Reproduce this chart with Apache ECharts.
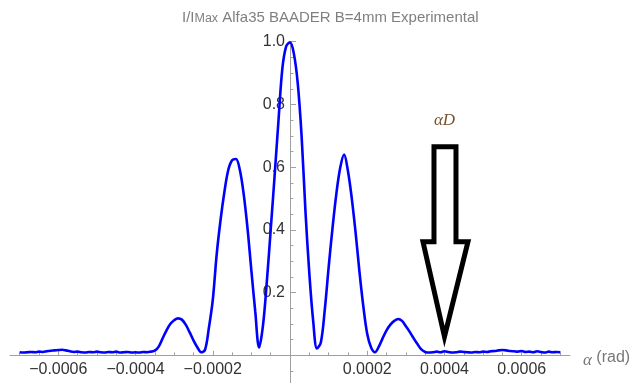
<!DOCTYPE html>
<html>
<head>
<meta charset="utf-8">
<script src="https://cdn.jsdelivr.net/npm/echarts@6/dist/echarts.min.js"></script>
<style>
html,body{margin:0;padding:0;background:#fff;}
#chart{width:637px;height:383px;}
</style>
</head>
<body>
<div id="chart"></div>
<script>
// alpha (rad)
const alpha = [
-0.00070,-0.00069,-0.00068,-0.00067,-0.00066,-0.00065,-0.00064,-0.00063,-0.00062,-0.00061,
-0.00060,-0.00059,-0.00058,-0.00057,-0.00056,-0.00055,-0.00054,-0.00053,-0.00052,-0.00051,
-0.00050,-0.00049,-0.00048,-0.00047,-0.00046,-0.00045,-0.00044,-0.00043,-0.00042,-0.00041,
-0.00040,-0.00039,-0.00038,-0.00037,-0.00036,-0.00035,-0.00034,-0.00033,-0.00032,-0.00031,
-0.00030,-0.00029,-0.00028,-0.00027,-0.00026,-0.00025,-0.00024,-0.00023,-0.00022,-0.00021,
-0.00020,-0.00019,-0.00018,-0.00017,-0.00016,-0.00015,-0.00014,-0.00013,-0.00012,-0.00011,
-0.00010,-0.00009,-0.00008,-0.00007,-0.00006,-0.00005,-0.00004,-0.00003,-0.00002,-0.00001,
0.00000,
0.00001,0.00002,0.00003,0.00004,0.00005,0.00006,0.00007,0.00008,0.00009,0.00010,
0.00011,0.00012,0.00013,0.00014,0.00015,0.00016,0.00017,0.00018,0.00019,0.00020,
0.00021,0.00022,0.00023,0.00024,0.00025,0.00026,0.00027,0.00028,0.00029,0.00030,
0.00031,0.00032,0.00033,0.00034,0.00035,0.00036,0.00037,0.00038,0.00039,0.00040,
0.00041,0.00042,0.00043,0.00044,0.00045,0.00046,0.00047,0.00048,0.00049,0.00050,
0.00051,0.00052,0.00053,0.00054,0.00055,0.00056,0.00057,0.00058,0.00059,0.00060,
0.00061,0.00062,0.00063,0.00064,0.00065,0.00066,0.00067,0.00068,0.00069,0.00070
];
// I / I_max
const intensity = [
0.010,0.009,0.010,0.011,0.010,0.012,0.011,0.013,0.015,0.016,
0.017,0.018,0.016,0.013,0.011,0.012,0.010,0.009,0.011,0.010,
0.012,0.010,0.009,0.011,0.010,0.012,0.009,0.010,0.011,0.009,
0.010,0.009,0.011,0.010,0.012,0.015,0.028,0.054,0.079,0.100,
0.112,0.118,0.114,0.098,0.074,0.048,0.026,0.010,0.018,0.088,
0.176,0.320,0.430,0.520,0.590,0.622,0.626,0.592,0.515,0.405,
0.270,0.140,0.025,0.095,0.235,0.400,0.570,0.745,0.912,0.985,
0.998,
0.962,0.868,0.700,0.460,0.262,0.110,0.022,0.042,0.145,0.280,
0.405,0.515,0.598,0.640,0.588,0.500,0.390,0.265,0.155,0.068,
0.025,0.010,0.028,0.055,0.080,0.098,0.110,0.116,0.110,0.093,
0.075,0.055,0.036,0.019,0.011,0.009,0.010,0.012,0.010,0.013,
0.011,0.009,0.010,0.012,0.011,0.010,0.009,0.011,0.010,0.012,
0.011,0.013,0.014,0.016,0.017,0.016,0.014,0.013,0.012,0.014,
0.011,0.012,0.010,0.013,0.011,0.009,0.012,0.010,0.011,0.010
];
const xTickValues = [-0.0006, -0.0004, -0.0002, 0.0002, 0.0004, 0.0006];
const xTickLabels = ['\u22120.0006', '\u22120.0004', '\u22120.0002', '0.0002', '0.0004', '0.0006'];
const xMinorTicks = [-0.0007,-0.00065,-0.0006,-0.00055,-0.0005,-0.00045,-0.0004,-0.00035,-0.0003,-0.00025,-0.0002,-0.00015,-0.0001,-0.00005,
  0.00005,0.0001,0.00015,0.0002,0.00025,0.0003,0.00035,0.0004,0.00045,0.0005,0.00055,0.0006,0.00065,0.0007];
const yTickValues = [0.2, 0.4, 0.6, 0.8, 1.0];
const yTickLabels = ['0.2', '0.4', '0.6', '0.8', '1.0'];
const yMinorTicks = [-0.05,0.05,0.1,0.15,0.2,0.25,0.3,0.35,0.4,0.45,0.5,0.55,0.6,0.65,0.7,0.75,0.8,0.85,0.9,0.95,1.0];
const arrowTip = [0.0004, 0.05];
const arrowLabel = '\u03B1D';

const chart = echarts.init(document.getElementById('chart'), null, {renderer: 'canvas'});
const AX = '#a0a0a0';
const FONT = 'Liberation Sans';
function lookup(vals, labels, v) {
  let best = 0;
  for (let i = 1; i < vals.length; i++) if (Math.abs(vals[i] - v) < Math.abs(vals[best] - v)) best = i;
  return labels[best];
}
const xMin = -0.000725, xMax = 0.000725, yMin = -0.088, yMax = 1.0;
const G = {left: 10, top: 41.7, width: 560, height: 341.3};
// axes cross at the origin: shift axes from grid edges to the zero lines
const xAxisOffset = -(G.height * (0 - yMin) / (yMax - yMin));
const yAxisOffset = -(G.width * (0 - xMin) / (xMax - xMin));

chart.setOption({
  animation: false,
  backgroundColor: '#fff',
  title: {
    text: '{a|I/I}{b|Max}{a| Alfa35 BAADER B=4mm Experimental}',
    left: 177, top: 2,
    textStyle: {
      fontWeight: 'normal',
      rich: {
        a: {fontFamily: FONT, fontSize: 15, fontWeight: 'normal', color: '#808080', lineHeight: 18, verticalAlign: 'bottom'},
        b: {fontFamily: FONT, fontSize: 12.5, fontWeight: 'normal', color: '#808080', lineHeight: 12, padding: [8, 0, 0, 0], verticalAlign: 'bottom'}
      }
    }
  },
  grid: Object.assign({containLabel: false, outerBoundsMode: 'none'}, G),
  xAxis: [{
    type: 'value', min: xMin, max: xMax, position: 'bottom', offset: xAxisOffset,
    axisLine: {show: true, onZero: false, lineStyle: {color: AX, width: 1}},
    axisTick: {show: true, inside: true, length: 4.5, customValues: xTickValues, lineStyle: {color: AX}},
    axisLabel: {show: true, customValues: xTickValues, margin: 6, color: '#333', fontFamily: FONT, fontSize: 16,
      formatter: v => lookup(xTickValues, xTickLabels, v)},
    splitLine: {show: false},
    name: '{a|\u03B1} (rad)', nameLocation: 'end', nameGap: 13,
    nameTextStyle: {color: '#777', fontFamily: FONT, fontSize: 16, verticalAlign: 'middle', padding: [5, 0, 0, 0],
      rich: {a: {fontStyle: 'italic', fontFamily: 'Liberation Serif', fontSize: 17, color: '#777', padding: [5, 0, 0, 0]}}}
  }, {
    type: 'value', min: xMin, max: xMax, position: 'bottom', offset: xAxisOffset,
    axisLine: {show: false, onZero: false},
    axisTick: {show: true, inside: true, length: 3, customValues: xMinorTicks, lineStyle: {color: AX}},
    axisLabel: {show: false},
    splitLine: {show: false}
  }],
  yAxis: [{
    type: 'value', min: yMin, max: yMax, position: 'left', offset: yAxisOffset,
    axisLine: {show: true, onZero: false, lineStyle: {color: AX, width: 1}},
    axisTick: {show: true, inside: true, length: 6, customValues: yTickValues, lineStyle: {color: AX}},
    axisLabel: {show: true, customValues: yTickValues, margin: 5, color: '#333', fontFamily: FONT, fontSize: 16,
      formatter: v => lookup(yTickValues, yTickLabels, v)},
    splitLine: {show: false}
  }, {
    type: 'value', min: yMin, max: yMax, position: 'left', offset: yAxisOffset,
    axisLine: {show: false, onZero: false},
    axisTick: {show: true, inside: true, length: 3.5, customValues: yMinorTicks, lineStyle: {color: AX}},
    axisLabel: {show: false},
    splitLine: {show: false}
  }],
  series: [{
    type: 'line',
    xAxisIndex: 0, yAxisIndex: 0,
    data: alpha.map((a, i) => [a, intensity[i]]),
    showSymbol: false,
    smooth: 0.35,
    clip: false,
    lineStyle: {color: '#0000ff', width: 2.6},
    z: 3
  }]
});

// annotation arrow anchored to data point
const tip = chart.convertToPixel({xAxisIndex: 0, yAxisIndex: 0}, arrowTip);
const tx = tip[0], ty = tip[1] - 3;
chart.setOption({
  graphic: [{
    type: 'polygon',
    shape: {points: [
      [tx - 10.5, ty - 190], [tx + 11.5, ty - 190], [tx + 11.5, ty - 95], [tx + 23.5, ty - 95],
      [tx, ty], [tx - 21.5, ty - 95], [tx - 10.5, ty - 95]
    ]},
    style: {fill: '#fff', stroke: '#000', lineWidth: 5, lineJoin: 'miter', miterLimit: 10},
    z: 10
  }, {
    type: 'text',
    x: tx, y: ty - 216,
    style: {text: arrowLabel, fill: '#7a5230', font: 'italic 17px "Liberation Serif"', align: 'center', verticalAlign: 'middle'},
    z: 10
  }]
});
</script>
</body>
</html>
